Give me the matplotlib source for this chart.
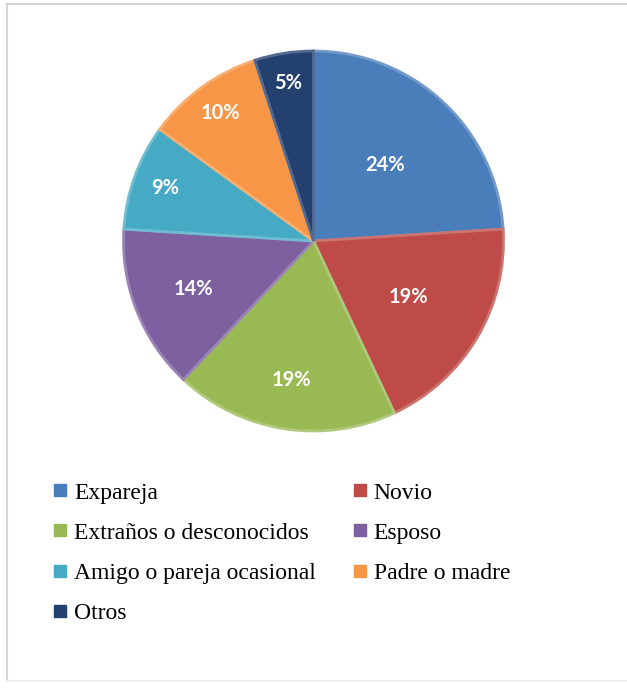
import matplotlib
matplotlib.use("Agg")
import matplotlib.pyplot as plt
from matplotlib.lines import Line2D
import numpy as np

categories = ["Expareja", "Novio", "Extraños o desconocidos", "Esposo",
              "Amigo o pareja ocasional", "Padre o madre", "Otros"]
values = [24, 19, 19, 14, 9, 10, 5]
labels = ["24%", "19%", "19%", "14%", "9%", "10%", "5%"]
colors = ["#4A7EBB", "#BE4B48", "#98B954", "#7D60A0", "#46AAC5", "#F79646", "#23406F"]
label_r = [0.55, 0.58, 0.74, 0.68, 0.83, 0.83, 0.84]

W, H = 627, 690
fig = plt.figure(figsize=(W / 100, H / 100), dpi=100)
fig.patch.set_facecolor("white")

# outer frame
fig.add_artist(Line2D([7 / W, 7 / W], [1 - 4 / H, 1 - 680 / H], color="#D4D4D4", lw=1.5,
                      transform=fig.transFigure))
fig.add_artist(Line2D([7 / W, 1.0], [1 - 4 / H, 1 - 4 / H], color="#D4D4D4", lw=1.5,
                      transform=fig.transFigure))
fig.add_artist(Line2D([7 / W, 1.0], [1 - 681 / H, 1 - 681 / H], color="#EFEFEF", lw=1.5,
                      transform=fig.transFigure))

cx, cy, r = 313.5, 241, 190
ax = fig.add_axes([(cx - r) / W, 1 - (cy + r) / H, 2 * r / W, 2 * r / H])


def lighten(c, f):
    rgb = np.array(matplotlib.colors.to_rgb(c))
    return tuple(rgb + (1 - rgb) * f)


wedges, _ = ax.pie(values, colors=colors, startangle=90, counterclock=False, radius=1,
                   wedgeprops=dict(linewidth=2.0, clip_on=False))
ax.set_xlim(-1, 1)
ax.set_ylim(-1, 1)
ax.set_aspect("equal")
ax.axis("off")
for w, c in zip(wedges, colors):
    w.set_edgecolor(lighten(c, 0.22))

for w, lab, lr in zip(wedges, labels, label_r):
    mid = np.deg2rad((w.theta1 + w.theta2) / 2)
    ax.text(lr * np.cos(mid), lr * np.sin(mid), lab, ha="center", va="center",
            color="white", fontsize=14.5, fontweight="bold", family="Lato")

# legend (row-major order as in reference)
order = [0, 2, 4, 6, 1, 3, 5]
handles = [Line2D([], [], marker="s", linestyle="none", markersize=8,
                  markerfacecolor=colors[i], markeredgecolor=colors[i]) for i in order]
leg = fig.legend(handles, [categories[i] for i in order], ncol=2,
                 loc="upper left", bbox_to_anchor=(54 / W, 1 - 482 / H),
                 frameon=False, prop=dict(family="Liberation Serif", size=17),
                 handlelength=0.55, handletextpad=0.3, labelspacing=0.79,
                 columnspacing=1.6, borderaxespad=0, borderpad=0)

fig.savefig("out.png", dpi=100, facecolor="white")
